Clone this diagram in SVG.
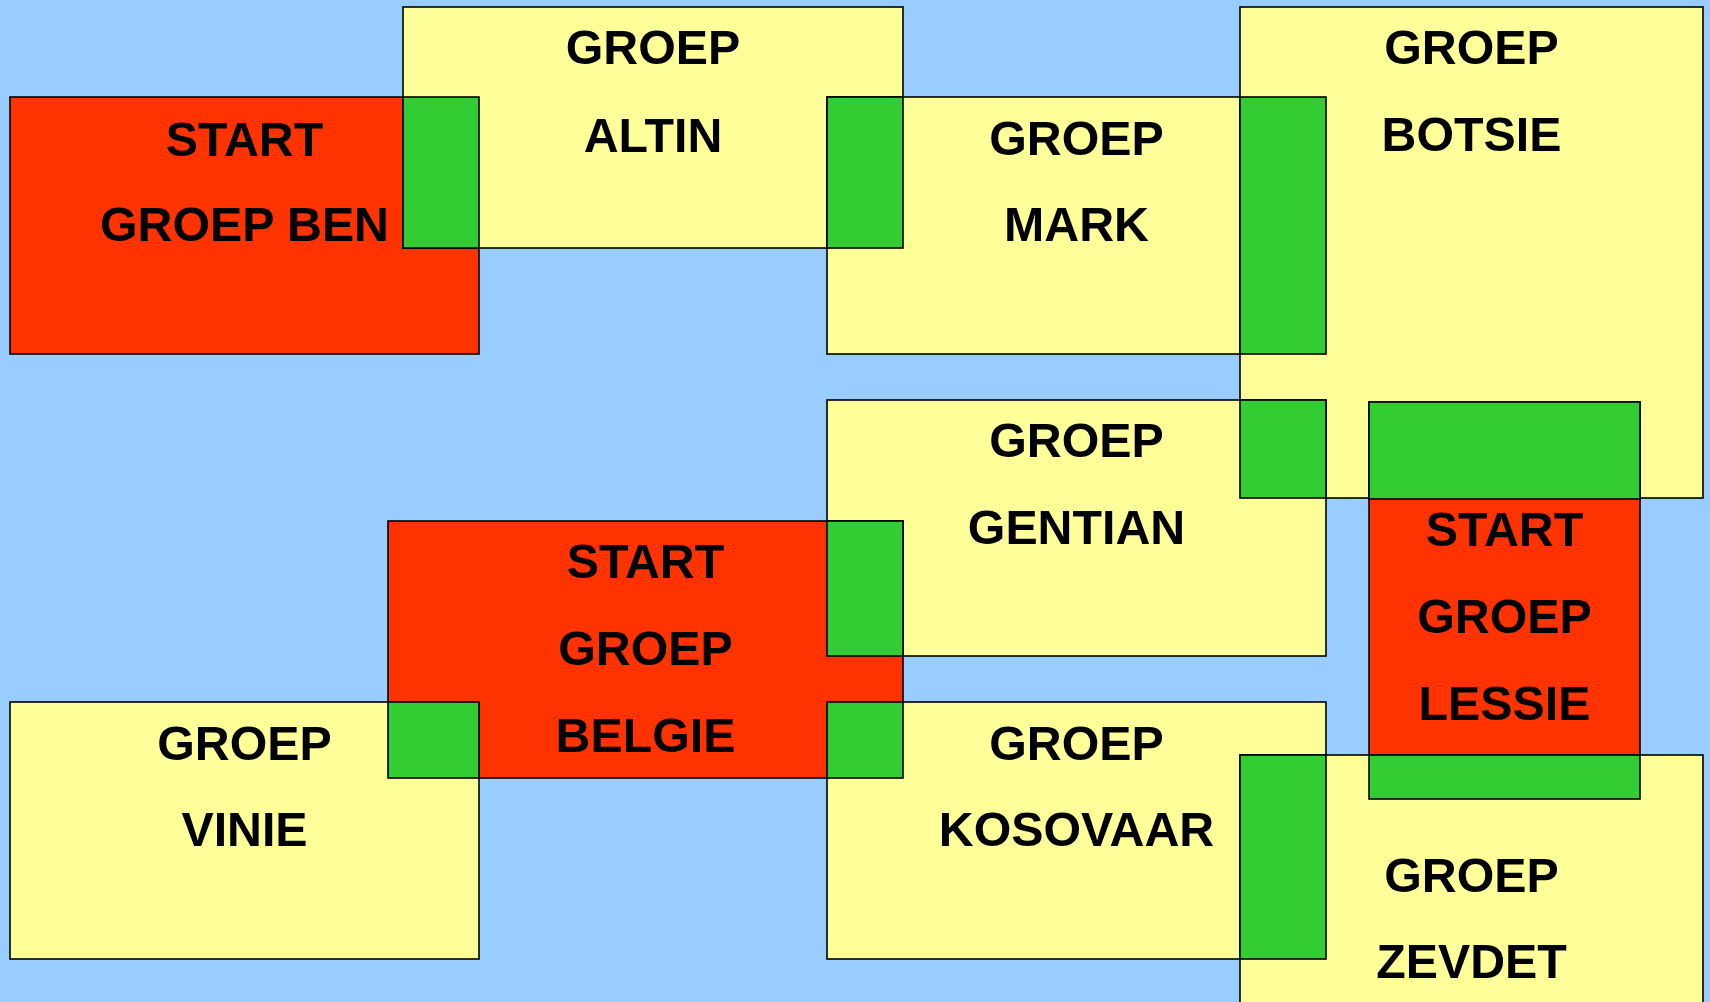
<svg xmlns="http://www.w3.org/2000/svg" width="1710" height="1002" viewBox="0 0 1710 1002">
<style>
.y{fill:#FFFF99;stroke:#000;stroke-width:1.6}
.r{fill:#FF3300;stroke:#000;stroke-width:1.6}
.g{fill:#33CC33;stroke:#000;stroke-width:1.6}
text{font-family:"Liberation Sans",Arial,sans-serif;font-weight:bold;font-size:48.3px;fill:#000;text-anchor:middle}
</style>
<rect width="1710" height="1002" fill="#99CCFF"/>
<g id="nodes-boxes">
<g id="ben"><rect class="r" x="10" y="97" width="469" height="257"/></g>
<g id="altin"><rect class="y" x="403" y="7" width="500" height="241"/></g>
<g id="mark"><rect class="y" x="827" y="97" width="499" height="257"/></g>
<g id="botsie"><rect class="y" x="1240" y="7" width="463" height="491"/></g>
<g id="gentian"><rect class="y" x="827" y="400" width="499" height="256"/></g>
<g id="lessie"><rect class="r" x="1369" y="402" width="271" height="397"/></g>
<g id="belgie"><rect class="r" x="388" y="521" width="515" height="257"/></g>
<g id="vinie"><rect class="y" x="10" y="702" width="469" height="257"/></g>
<g id="kosovaar"><rect class="y" x="827" y="702" width="499" height="257"/></g>
<g id="zevdet"><rect class="y" x="1240" y="755" width="463" height="260"/></g>
</g>
<g id="overlaps">
<rect class="g" x="403" y="97" width="76" height="151"/>
<rect class="g" x="827" y="97" width="76" height="151"/>
<rect class="g" x="1240" y="97" width="86" height="257"/>
<rect class="g" x="1240" y="400" width="86" height="98"/>
<rect class="g" x="1369" y="402" width="271" height="97"/>
<rect class="g" x="827" y="521" width="76" height="135"/>
<rect class="g" x="388" y="702" width="91" height="76"/>
<rect class="g" x="827" y="702" width="76" height="76"/>
<rect class="g" x="1240" y="755" width="86" height="204"/>
<rect class="g" x="1369" y="755" width="271" height="44"/>
</g>
<g id="labels">
<g id="ben-label"><text x="244.5" y="156">START</text><text x="244.5" y="241">GROEP BEN</text></g>
<g id="altin-label"><text x="653" y="64">GROEP</text><text x="653" y="152">ALTIN</text></g>
<g id="mark-label"><text x="1076.5" y="155">GROEP</text><text x="1076.5" y="241">MARK</text></g>
<g id="botsie-label"><text x="1471.5" y="64">GROEP</text><text x="1471.5" y="151">BOTSIE</text></g>
<g id="gentian-label"><text x="1076.5" y="457">GROEP</text><text x="1076.5" y="543.5">GENTIAN</text></g>
<g id="lessie-label"><text x="1504.5" y="545.5">START</text><text x="1504.5" y="633">GROEP</text><text x="1504.5" y="720">LESSIE</text></g>
<g id="belgie-label"><text x="645.5" y="578">START</text><text x="645.5" y="665">GROEP</text><text x="645.5" y="752">BELGIE</text></g>
<g id="vinie-label"><text x="244.5" y="760">GROEP</text><text x="244.5" y="846">VINIE</text></g>
<g id="kosovaar-label"><text x="1076.5" y="760">GROEP</text><text x="1076.5" y="845.5">KOSOVAAR</text></g>
<g id="zevdet-label"><text x="1471.5" y="892">GROEP</text><text x="1471.5" y="978">ZEVDET</text></g>
</g>
</svg>
